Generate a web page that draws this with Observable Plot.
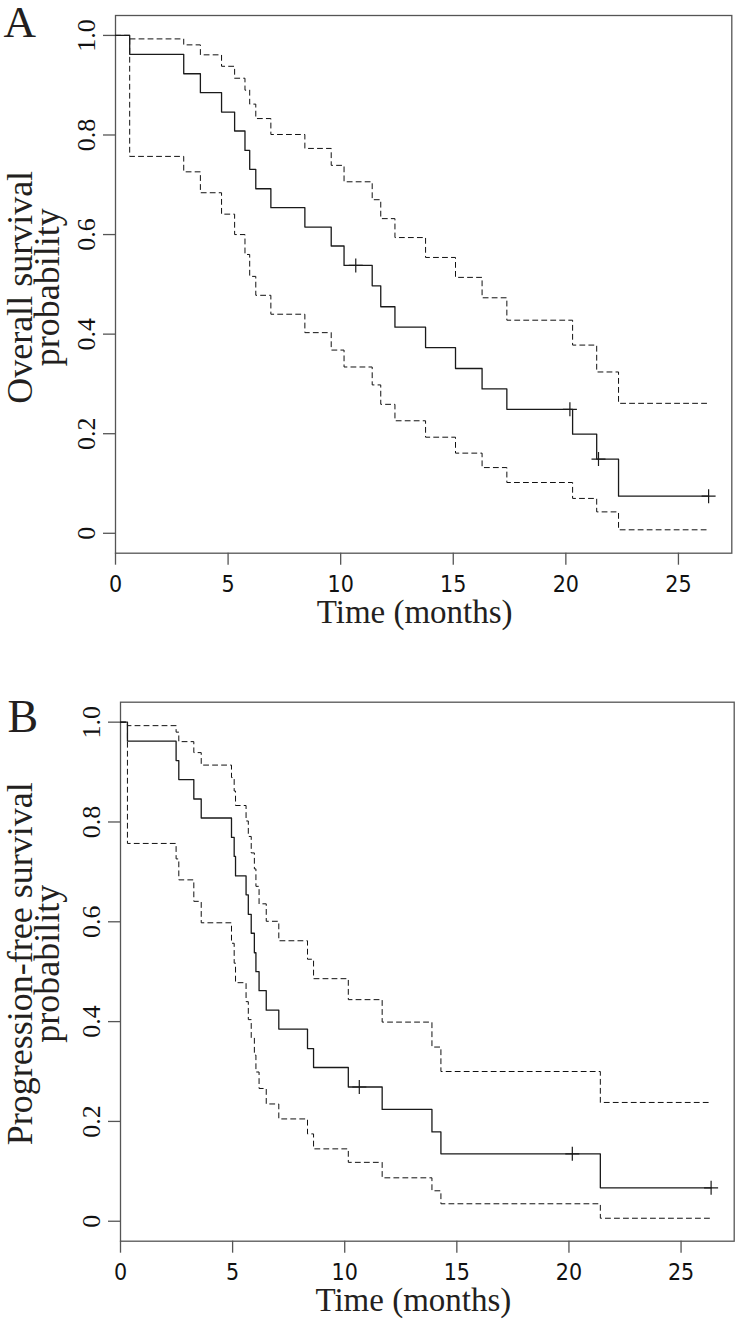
<!DOCTYPE html>
<html><head><meta charset="utf-8">
<script src="https://cdn.jsdelivr.net/npm/d3@7"></script>
<script src="https://cdn.jsdelivr.net/npm/@observablehq/plot@0.6"></script>
<style>html,body{margin:0;padding:0;background:#fff;} #chart svg{display:block;}</style>
</head><body><div id="chart"></div>
<script>
// ---- axis ticks ----
const xTicks = [0, 5, 10, 15, 20, 25];
const yTicks = [0, 0.2, 0.4, 0.6, 0.8, 1.0];
const yTickLabels = ["0", "0.2", "0.4", "0.6", "0.8", "1.0"];

// ---- Panel A: overall survival ----
const osTime  = [0, 0.63, 3.03, 3.77, 4.71, 5.29, 5.75, 5.96, 6.23, 6.90, 8.41, 9.58, 10.15, 11.40, 11.78, 12.41, 13.77, 15.10, 16.28, 17.38, 20.30, 21.37, 22.34, 26.34];
const osSurv  = [1, 0.962, 0.923, 0.885, 0.846, 0.808, 0.769, 0.731, 0.692, 0.654, 0.615, 0.577, 0.538, 0.497, 0.455, 0.414, 0.373, 0.331, 0.290, 0.249, 0.199, 0.149, 0.0746, 0.0746];
const osUpper = [1, 0.993, 0.981, 0.961, 0.938, 0.914, 0.890, 0.862, 0.833, 0.801, 0.773, 0.739, 0.706, 0.670, 0.632, 0.594, 0.554, 0.514, 0.473, 0.428, 0.378, 0.324, 0.261, 0.261];
const osLower = [1, 0.757, 0.726, 0.684, 0.641, 0.600, 0.560, 0.516, 0.478, 0.440, 0.403, 0.368, 0.334, 0.298, 0.259, 0.226, 0.193, 0.161, 0.132, 0.102, 0.070, 0.043, 0.007, 0.007];
const osCensorTime = [10.67, 20.18, 21.45, 26.34];
const osCensorSurv = [0.538, 0.249, 0.149, 0.0746];

// ---- Panel B: progression-free survival ----
const pfsTime  = [0, 0.31, 2.48, 2.60, 3.27, 3.60, 4.95, 5.07, 5.13, 5.60, 5.70, 5.83, 5.97, 6.04, 6.18, 6.50, 7.06, 8.34, 8.61, 10.16, 11.67, 13.89, 14.29, 21.40, 26.34];
const pfsSurv  = [1, 0.962, 0.923, 0.885, 0.846, 0.808, 0.769, 0.731, 0.692, 0.654, 0.615, 0.577, 0.538, 0.500, 0.462, 0.423, 0.385, 0.346, 0.308, 0.269, 0.224, 0.179, 0.135, 0.067, 0.067];
const pfsUpper = [1, 0.993, 0.980, 0.961, 0.939, 0.914, 0.889, 0.862, 0.833, 0.802, 0.771, 0.738, 0.706, 0.671, 0.636, 0.601, 0.562, 0.525, 0.486, 0.444, 0.399, 0.349, 0.300, 0.238, 0.238];
const pfsLower = [1, 0.757, 0.726, 0.684, 0.641, 0.598, 0.557, 0.517, 0.478, 0.440, 0.404, 0.367, 0.333, 0.299, 0.266, 0.235, 0.205, 0.175, 0.145, 0.118, 0.087, 0.061, 0.035, 0.006, 0.006];
const pfsCensorTime = [10.65, 20.15, 26.34];
const pfsCensorSurv = [0.269, 0.135, 0.067];

const serif = "'Liberation Serif', 'Times New Roman', serif";
const narrow = "'DejaVu Sans Condensed', 'Liberation Sans Narrow', sans-serif";
const ink = "#231f20";
const axisGray = "#555";

const plusSymbol = {
  draw(ctx, size) {
    const r = Math.sqrt(size / Math.PI);
    ctx.moveTo(-r, 0); ctx.lineTo(r, 0);
    ctx.moveTo(0, -r); ctx.lineTo(0, r);
  }
};

function rows(t, v) { return t.map((d, i) => ({t: d, v: v[i]})); }

function panel(o) {
  const svg = Plot.plot({
    width: 738,
    height: o.height,
    marginTop: o.mt, marginBottom: o.mb, marginLeft: o.ml, marginRight: o.mr,
    style: {background: "white", overflow: "visible"},
    x: {domain: [0, 27.37]},
    y: {domain: [-0.04, 1.04]},
    marks: [
      Plot.frame({stroke: axisGray, strokeWidth: 1.3}),
      Plot.axisX({ticks: xTicks, tickSize: 12, tickPadding: 10, stroke: axisGray, strokeWidth: 1.3, fill: "#111",
        fontFamily: narrow, fontSize: 23, label: null, tickFormat: d => String(d)}),
      Plot.axisY({ticks: yTicks, tickSize: 12, tickPadding: 17, tickRotate: -90, lineAnchor: "middle", textAnchor: "middle",
        stroke: axisGray, strokeWidth: 1.3, fill: "#111", fontFamily: serif, fontSize: 26, label: null,
        tickFormat: d => yTickLabels[yTicks.indexOf(d)]}),
      Plot.line(rows(o.time, o.upper), {x: "t", y: "v", curve: "step-after", stroke: "#111", strokeWidth: 1, strokeDasharray: "5,4"}),
      Plot.line(rows(o.time, o.lower), {x: "t", y: "v", curve: "step-after", stroke: "#111", strokeWidth: 1, strokeDasharray: "5,4"}),
      Plot.line(rows(o.time, o.surv), {x: "t", y: "v", curve: "step-after", stroke: "#1a1a1a", strokeWidth: 1.3}),
      Plot.dot(rows(o.cTime, o.cSurv), {x: "t", y: "v", symbol: plusSymbol, r: 7, stroke: "#1a1a1a", strokeWidth: 1.2, fill: "none"}),
      Plot.text([o.label], {frameAnchor: "top-left", dx: o.labDx, dy: o.labDy, lineAnchor: "top", textAnchor: "start",
        fontFamily: serif, fontSize: o.labSize, fill: ink}),
      Plot.text([o.ylab1], {frameAnchor: "left", rotate: -90, dx: o.yl1Dx, dy: o.ylDy, lineAnchor: "middle", textAnchor: "middle",
        fontFamily: serif, fontSize: 36, fill: ink}),
      Plot.text([o.ylab2], {frameAnchor: "left", rotate: -90, dx: o.yl2Dx, dy: o.ylDy, lineAnchor: "middle", textAnchor: "middle",
        fontFamily: serif, fontSize: 36, fill: ink}),
      Plot.text(["Time (months)"], {frameAnchor: "bottom", dx: o.xtDx, dy: o.xtDy, lineAnchor: "middle", textAnchor: "middle",
        fontFamily: serif, fontSize: 33, fill: ink, ariaLabel: "xtitle"})
    ]
  });
  svg.querySelectorAll('[aria-label="xtitle"] text').forEach(t => {
    t.setAttribute("textLength", 172);
    t.setAttribute("lengthAdjust", "spacingAndGlyphs");
  });
  return svg;
}

const chart = document.getElementById("chart");
chart.appendChild(panel({
  label: "A", ylab1: "Overall survival", ylab2: "probability",
  time: osTime, surv: osSurv, upper: osUpper, lower: osLower, cTime: osCensorTime, cSurv: osCensorSurv,
  height: 655, mt: 15, mb: 102.3, ml: 115, mr: 6.7,
  labDx: -112, labDy: -10, labSize: 45,
  yl1Dx: -95.5, yl2Dx: -68.5, ylDy: 3,
  xtDx: -9, xtDy: 59.5
}));
chart.appendChild(panel({
  label: "B", ylab1: "Progression-free survival", ylab2: "probability",
  time: pfsTime, surv: pfsSurv, upper: pfsUpper, lower: pfsLower, cTime: pfsCensorTime, cSurv: pfsCensorSurv,
  height: 669, mt: 46.7, mb: 83.3, ml: 120, mr: 4.3,
  labDx: -113, labDy: -2.7, labSize: 46,
  yl1Dx: -100.5, yl2Dx: -73.5, ylDy: -8,
  xtDx: -14, xtDy: 59.5
}));
</script>
</body></html>
